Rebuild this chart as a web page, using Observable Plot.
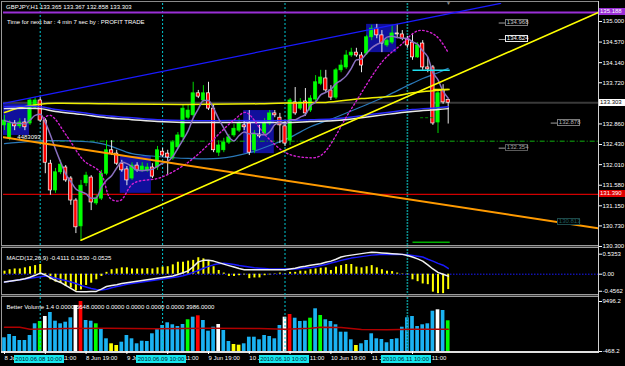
<!DOCTYPE html>
<html><head><meta charset="utf-8">
<script src="https://cdn.jsdelivr.net/npm/d3@7"></script>
<script src="https://cdn.jsdelivr.net/npm/@observablehq/plot@0.6"></script>
<style>
html,body{margin:0;padding:0;background:#000;}
#root{position:relative;width:625px;height:366px;background:#000;overflow:hidden;font-family:"Liberation Sans",Arial,sans-serif;font-size:6px;color:#fff;}
#root svg{position:absolute;left:0;background:transparent;}
.lbl{position:absolute;white-space:nowrap;font-size:6px;height:7px;line-height:7px;box-sizing:border-box;}
.ln{position:absolute;}
</style></head><body><div id="root"></div><script>
// ---------- DATA ----------
const opens = [132.83,132.56,132.87,132.81,132.89,132.87,133.20,133.35,132.93,132.03,131.47,131.85,131.95,131.72,131.26,130.72,131.62,131.74,131.20,131.30,131.82,132.31,132.24,132.03,131.91,131.72,131.99,131.89,131.89,131.95,131.95,132.28,132.24,132.14,132.37,132.58,132.99,133.04,133.50,133.35,133.50,133.18,132.26,132.31,132.47,132.62,132.72,132.83,132.87,132.31,132.64,132.66,132.87,133.08,132.99,132.81,132.51,133.31,133.18,133.33,133.14,133.37,133.70,133.81,133.56,133.41,133.98,134.04,134.29,134.35,134.29,134.33,134.67,134.85,134.71,134.50,134.56,134.75,134.73,134.62,134.56,134.25,134.54,134.04,134.04,132.89,133.56,133.365];
const highs = [133.04,132.93,132.93,132.97,132.97,133.39,133.41,133.41,132.97,132.10,131.93,132.10,131.99,131.76,131.30,131.68,131.85,131.78,131.37,131.89,132.51,132.51,132.31,132.10,131.97,132.05,132.05,132.05,132.03,132.03,132.39,132.35,132.31,132.51,132.68,133.25,133.25,133.73,133.56,133.66,133.73,133.25,132.51,132.56,132.64,132.85,132.97,132.93,133.14,132.72,132.83,132.97,133.14,133.14,133.08,132.93,133.39,133.62,133.39,133.60,133.45,133.87,133.98,133.98,133.66,134.02,134.19,134.39,134.44,134.44,134.35,134.71,134.92,134.94,134.81,134.64,134.92,134.94,134.81,134.69,134.75,134.56,134.60,134.25,134.08,133.56,133.68,133.367];
const lows = [132.72,132.51,132.72,132.76,132.72,132.83,133.18,132.89,131.82,131.37,131.41,131.80,131.64,131.16,130.57,130.43,131.55,131.05,131.16,131.26,131.78,132.20,131.99,131.85,131.57,131.68,131.85,131.85,131.85,131.72,131.89,132.16,131.78,132.10,132.33,132.53,132.95,132.99,133.39,133.31,133.14,132.26,132.18,132.26,132.43,132.58,132.68,132.72,132.20,132.24,132.56,132.62,132.83,132.99,132.45,132.39,132.41,133.04,133.14,133.02,133.10,133.31,133.66,133.52,133.35,133.37,133.93,134.00,134.25,134.25,133.93,134.29,134.60,134.64,134.35,134.46,134.52,134.64,134.60,134.44,134.19,134.23,133.98,133.93,132.83,132.66,133.27,132.858];
const closes = [132.93,132.87,132.81,132.89,132.79,133.35,133.35,132.93,132.05,131.47,131.85,132.01,131.68,131.26,130.70,131.57,131.78,131.22,131.30,131.82,132.31,132.24,132.03,131.89,131.68,131.99,131.89,131.97,131.95,131.76,132.31,132.20,132.16,132.47,132.62,133.18,133.14,133.50,133.43,133.50,133.18,132.31,132.41,132.47,132.58,132.76,132.87,132.79,132.26,132.64,132.60,132.87,133.08,133.04,132.83,132.45,133.35,133.08,133.31,133.08,133.39,133.73,133.83,133.56,133.41,133.98,134.08,134.29,134.35,134.29,134.08,134.67,134.85,134.71,134.54,134.60,134.75,134.73,134.64,134.50,134.25,134.50,134.04,134.00,132.87,133.50,133.31,133.303];

const volumes = [2262,2920,2522,1724,1724,2721,5052,5511,6508,7305,5571,5052,5372,6249,8700,9496,5710,5571,5052,4056,2063,1066,728,1386,2721,2063,1066,1585,1525,3060,3917,4714,5252,4853,4515,4913,5850,6368,6647,5710,3578,4375,4913,3717,1525,927,788,1066,2382,2382,1864,2721,2522,2063,4714,6368,6906,6169,5511,5571,6169,8042,6707,5850,5511,4853,3379,3379,1864,728,1066,1724,3060,2063,1924,1266,1924,2063,4375,6249,6508,4515,4853,5052,7563,7842,7703,5648];
const volumeKind = "bbbbbbbgwbbbbbwrbbgbbyybbbbbbbbbbbbbgbrbbbwbbyybbbbbbbbwrbbbgbgbbbbbbybbbbbbbbbbbbbbbwbgb".split("");
const volAvgIdx = [0,3,5,12,20,30,40,50,55,60,62,66,70,75,80,87];
const volAvgVal = [4375,4375,3980,4120,4176,4050,4176,4100,3950,4176,4375,4300,3920,3880,3986,3986];

const macdHist = [0.08,0.12,0.14,0.14,0.17,0.20,0.23,0.26,0.02,-0.15,-0.21,-0.24,-0.33,-0.37,-0.45,-0.42,-0.30,-0.24,-0.15,-0.06,0.05,0.12,0.14,0.17,0.17,0.14,0.14,0.14,0.15,0.14,0.17,0.19,0.20,0.25,0.32,0.32,0.35,0.37,0.44,0.41,0.35,0.20,0.10,0.03,-0.06,-0.06,-0.04,-0.02,-0.12,-0.10,-0.10,-0.04,-0.02,0.01,0.03,0.01,0.05,0.05,0.08,0.08,0.12,0.14,0.16,0.17,0.10,0.19,0.23,0.26,0.26,0.19,0.17,0.20,0.23,0.17,0.12,0.08,0.07,0.03,0.01,-0.01,-0.15,-0.20,-0.26,-0.28,-0.48,-0.52,-0.52,-0.4111];
const macdLine = [-0.21,-0.19,-0.17,-0.15,-0.12,-0.08,-0.03,0.03,-0.02,-0.10,-0.17,-0.22,-0.30,-0.38,-0.46,-0.47,-0.47,-0.46,-0.46,-0.40,-0.33,-0.30,-0.28,-0.25,-0.23,-0.21,-0.19,-0.17,-0.15,-0.13,-0.11,-0.09,-0.07,-0.05,-0.01,0.04,0.09,0.20,0.33,0.37,0.37,0.35,0.31,0.27,0.23,0.19,0.15,0.12,0.12,0.12,0.12,0.12,0.12,0.12,0.12,0.12,0.14,0.16,0.19,0.21,0.24,0.26,0.28,0.32,0.35,0.40,0.46,0.49,0.51,0.53,0.55,0.57,0.59,0.58,0.57,0.56,0.55,0.54,0.53,0.50,0.46,0.41,0.35,0.25,0.14,0.05,0.00,-0.0525];
const macdSignal = [-0.21,-0.19,-0.17,-0.15,-0.13,-0.11,-0.09,-0.07,-0.05,-0.07,-0.11,-0.14,-0.17,-0.21,-0.25,-0.30,-0.34,-0.38,-0.41,-0.42,-0.40,-0.36,-0.33,-0.30,-0.27,-0.25,-0.23,-0.21,-0.19,-0.17,-0.15,-0.13,-0.11,-0.09,-0.07,-0.04,0.00,0.05,0.10,0.16,0.21,0.25,0.28,0.29,0.28,0.26,0.23,0.21,0.19,0.17,0.16,0.15,0.14,0.14,0.14,0.14,0.14,0.14,0.15,0.17,0.18,0.20,0.23,0.26,0.30,0.33,0.37,0.40,0.43,0.45,0.47,0.49,0.51,0.52,0.53,0.53,0.53,0.53,0.53,0.52,0.50,0.48,0.46,0.40,0.35,0.29,0.24,0.153];

const yellowMaIdx = [0,3,7,10,20,30,40,50,60,63,70,77,80,87];
const yellowMaVal = [133.10,133.20,133.27,133.29,133.28,133.27,133.27,133.28,133.31,133.31,133.39,133.45,133.51,133.58];
const whiteMaIdx = [0,7,10,15,20,25,30,35,45,55,60,65,70,75,80,85,87];
const whiteMaVal = [133.18,133.18,133.12,133.06,132.99,132.95,132.91,132.89,132.89,132.89,132.91,132.93,132.99,133.06,133.12,133.16,133.18];
const blueMaVal = [133.22,133.22,133.16,133.10,133.03,132.99,132.95,132.93,132.93,132.93,132.95,132.97,133.03,133.10,133.16,133.20,133.22];
const tealMaIdx = [0,9,19,25,30,36,42,48,52,56,60,65,70,75,79,82,85,87];
const tealMaVal = [132.45,132.51,132.45,132.24,132.18,132.14,132.14,132.26,132.41,132.58,132.80,133.00,133.22,133.45,133.66,133.81,133.93,134.02];
const magIdx = [7.6,9.0,12.4,15.5,18.8,20.8,22.7,25.3,30.6,35.9,39.8,42.7,45.3,47.3,51.2,55.1,59.0,62.0,67.8,74.3,77.6,81.2,84.5,87.0];
const magVal = [132.97,133.04,132.58,132.10,131.85,131.30,131.26,131.62,131.74,132.05,132.41,132.72,132.97,133.10,132.62,132.26,132.16,132.20,133.14,134.19,134.50,134.81,134.71,134.35];

const blueTrendIdx = [-0.2, 97.3], blueTrendVal = [133.29, 135.38];
const yellowTrendIdx = [15, 116.47], yellowTrendVal = [130.43, 135.19];
const orangeTrendIdx = [-0.2, 116.47], orangeTrendVal = [132.58, 130.68];

const boxStart = [-0.2, 22.7, 46.9, 71.0];
const boxEnd = [4.9, 28.8, 52.9, 76.9];
const boxHigh = [133.29, 132.18, 133.14, 134.94];
const boxLow = [132.62, 131.41, 132.24, 134.35];

const levelPurple = 135.188, bidPrice = 133.303, levelRed = 131.390, levelGreen = 132.50;
const segFrom = [80, 84, 80], segTo = [87.3, 87.3, 87.3], segPrice = [133.98, 133.58, 130.39], segColor = ["#20e0f0", "#f0f000", "#00b000"];
const dashSeg = {from: 81.5, to: 84.5, price: 132.99};
const tagPrices = [134.968, 134.624, 132.878, 132.354, 130.813];
const tagIdx = [98.2, 98.2, 108.4, 98.2, 108.4];

const priceTicks = [135.000, 134.570, 134.140, 133.720, 132.860, 132.430, 132.010, 131.580, 131.150, 130.730, 130.300];
const macdTicks = [0.5353, 0, -0.4562];
const volTicks = [9496.2, -468.2];
const daySepIdx = [7, 31, 55, 79];
const daySepLabels = ["2010.06.08 10:00", "2010.06.09 10:00", "2010.06.10 10:00", "2010.06.11 10:00"];
const timeTickIdx = [0, 8, 16, 24, 32, 40, 48, 56, 64, 72, 80];
const timeTickLabels = ["8 Jun 2010", "8 Jun 11:00", "8 Jun 19:00", "9 Jun 03:00", "9 Jun 11:00", "9 Jun 19:00", "10 Jun 03:00", "10 Jun 11:00", "10 Jun 19:00", "11 Jun 03:00", "11 Jun 11:00"];

// ---------- BUILD ----------
const root = document.getElementById("root");
const FONT = '"Liberation Sans", Arial, sans-serif';
const X_DOMAIN = [-0.196, 116.47];
const baseStyle = {background: "transparent", color: "#ffffff", fontSize: "6px", fontFamily: FONT, overflow: "visible"};
const volColors = {b: "#1ab2f2", g: "#00ff00", w: "#ffffff", r: "#ff0000", y: "#ffff00"};

const bars = opens.map((o, i) => ({i, o, h: highs[i], l: lows[i], c: closes[i], up: closes[i] >= o}));
const pairs = (I, V) => I.map((i, k) => ({i, v: V[k]}));
const boxes = boxStart.map((s, k) => ({s, e: boxEnd[k], hi: boxHigh[k], lo: boxLow[k]}));
const segs = segFrom.map((a, k) => ({a, b: segTo[k], p: segPrice[k], c: segColor[k]}));
const connectors = tagPrices.slice(0, 4).map((p, k) => ({a: tagIdx[k] - 1.3, b: tagIdx[k], p}));

function div(cls, css, text) {
  const d = document.createElement("div");
  d.className = cls;
  Object.assign(d.style, css);
  if (text != null) d.textContent = text;
  root.appendChild(d);
  return d;
}

// frame lines (behind)
div("ln", {left: "1px", top: "1px", width: "597px", height: "1px", background: "#8a8a8a"});
div("ln", {left: "1px", top: "1px", width: "1px", height: "352px", background: "#9a9a9a"});
div("ln", {left: "598px", top: "1px", width: "1px", height: "352px", background: "#d0d0d0"});
div("ln", {left: "1px", top: "245px", width: "597px", height: "3px", background: "#9a9a9a"});
div("ln", {left: "1px", top: "246px", width: "597px", height: "1px", background: "#3a3a3a"});
div("ln", {left: "1px", top: "294px", width: "597px", height: "3px", background: "#9a9a9a"});
div("ln", {left: "1px", top: "295px", width: "597px", height: "1px", background: "#3a3a3a"});
div("ln", {left: "1px", top: "351px", width: "598px", height: "2px", background: "#e0e0e0"});

const main = Plot.plot({
  width: 625, height: 250, marginLeft: 3, marginRight: 27, marginTop: 3, marginBottom: 3,
  style: baseStyle,
  x: {domain: X_DOMAIN, axis: null},
  y: {domain: [130.279, 135.376], axis: "right", ticks: priceTicks, tickFormat: d3.format(".3f"), tickSize: 3, tickPadding: 1, label: null},
  marks: [
    Plot.rect(boxes, {x1: "s", x2: "e", y1: "lo", y2: "hi", fill: "#10109c"}),
    Plot.ruleX(daySepIdx.slice(0, 3), {stroke: "#00c8d2", strokeDasharray: "2,2", strokeWidth: 1}),
    Plot.ruleX(daySepIdx.slice(3), {stroke: "#0a8c8c", strokeDasharray: "2,1", strokeWidth: 1.6}),
    Plot.ruleY([levelPurple], {stroke: "#9a2fd6", strokeWidth: 2}),
    Plot.ruleY([bidPrice], {stroke: "#3a3a3a", strokeWidth: 2}),
    Plot.ruleY([levelRed], {stroke: "#d00000", strokeWidth: 1.2}),
    Plot.ruleY([levelGreen], {x1: 7, x2: X_DOMAIN[1], stroke: "#10b010", strokeDasharray: "5,2,1,2", strokeWidth: 1}),
    Plot.line(pairs(tealMaIdx, tealMaVal), {x: "i", y: "v", stroke: "#2a78b8", strokeWidth: 1.2, curve: "catmull-rom"}),
    Plot.ruleX(bars, {x: "i", y1: "l", y2: "h", stroke: d => d.up ? "#00d800" : "#e8e8e8", strokeWidth: 1}),
    Plot.rect(bars, {x1: d => d.i - 0.32, x2: d => d.i + 0.32, y1: "o", y2: "c", fill: d => d.up ? "#00ff00" : "#ff0000", stroke: d => d.up ? "#00ff00" : "#ffffff", strokeWidth: 0.7}),
    Plot.line(pairs(yellowMaIdx, yellowMaVal), {x: "i", y: "v", stroke: "#f0f000", strokeWidth: 1.5, curve: "catmull-rom"}),
    Plot.line(pairs(whiteMaIdx, blueMaVal), {x: "i", y: "v", stroke: "#2a2aff", strokeWidth: 1.5, curve: "catmull-rom"}),
    Plot.line(pairs(whiteMaIdx, whiteMaVal), {x: "i", y: "v", stroke: "#e8e8e8", strokeWidth: 1.5, curve: "catmull-rom"}),
    Plot.lineY(bars, Plot.windowY({k: 5, anchor: "end"}, {x: "i", y: "c", stroke: "#8a70c0", strokeWidth: 1.5, curve: "monotone-x"})),
    Plot.line(pairs(magIdx, magVal), {x: "i", y: "v", stroke: "#d020d0", strokeWidth: 1.4, strokeDasharray: "1.5,2.5", curve: "catmull-rom"}),
    Plot.line(pairs(blueTrendIdx, blueTrendVal), {x: "i", y: "v", stroke: "#1a1aff", strokeWidth: 1.2, clip: true}),
    Plot.line(pairs(orangeTrendIdx, orangeTrendVal), {x: "i", y: "v", stroke: "#ff9a00", strokeWidth: 2, clip: true}),
    Plot.line(pairs(yellowTrendIdx, yellowTrendVal), {x: "i", y: "v", stroke: "#ffff00", strokeWidth: 1.6, clip: true}),
    Plot.link(segs, {x1: "a", x2: "b", y1: "p", y2: "p", stroke: "c", strokeWidth: 1.5}),
    Plot.link([dashSeg], {x1: "from", x2: "to", y1: "price", y2: "price", stroke: "#008800", strokeDasharray: "3,2", strokeWidth: 1}),
    Plot.link(connectors, {x1: "a", x2: "b", y1: "p", y2: "p", stroke: "#a0a0a0", strokeWidth: 1}),
    Plot.text(["4483093"], {x: 4.8, y: 132.58, text: d => d, fill: "#ffffff", fontSize: 6})
  ]
});
main.style.top = "0px";
root.appendChild(main);

const macdData = macdHist.map((h, i) => ({i, h, m: macdLine[i], s: macdSignal[i]}));
const macdPlot = Plot.plot({
  width: 625, height: 48, marginLeft: 3, marginRight: 27, marginTop: 1, marginBottom: 1,
  style: baseStyle,
  x: {domain: X_DOMAIN, axis: null},
  y: {domain: [-0.5695, 0.6604], axis: "right", ticks: macdTicks, tickFormat: v => v === 0 ? "0.00" : v.toFixed(4), tickSize: 3, tickPadding: 1, label: null},
  marks: [
    Plot.ruleX(daySepIdx.slice(0, 3), {stroke: "#00c8d2", strokeDasharray: "2,2", strokeWidth: 1}),
    Plot.ruleX(daySepIdx.slice(3), {stroke: "#0a8c8c", strokeDasharray: "2,1", strokeWidth: 1.6}),
    Plot.ruleY([0], {stroke: "#1a1aff", strokeDasharray: "1.5,1.5", strokeWidth: 1}),
    Plot.ruleX(macdData, {x: "i", y1: 0, y2: "h", stroke: "#ffff00", strokeWidth: 2}),
    Plot.line(macdData, {x: "i", y: "s", stroke: "#1a1aff", strokeWidth: 1.5}),
    Plot.line(macdData, {x: "i", y: "m", stroke: "#f0f0f0", strokeWidth: 1.5}),
    Plot.text(["MACD(12,26,9) -0.4111 0.1530 -0.0525"], {frameAnchor: "top-left", dx: 3, dy: 6, text: d => d, textAnchor: "start", fill: "#ffffff"})
  ]
});
macdPlot.style.top = "248px";
root.appendChild(macdPlot);

const volData = volumes.map((v, i) => ({i, v, c: volColors[volumeKind[i]]}));
const volPlot = Plot.plot({
  width: 625, height: 70, marginLeft: 3, marginRight: 27, marginTop: 1, marginBottom: 15,
  style: baseStyle,
  x: {domain: X_DOMAIN, axis: "bottom", ticks: timeTickIdx, tickFormat: () => "", tickSize: 3, label: null},
  y: {domain: [-468.2, 10293.4], axis: "right", ticks: volTicks, tickFormat: v => v.toFixed(1), tickSize: 3, tickPadding: 1, label: null},
  marks: [
    Plot.rect(volData, {x1: d => d.i - 0.36, x2: d => d.i + 0.36, y1: -468.2, y2: "v", fill: "c"}),
    Plot.ruleX(daySepIdx.slice(0, 3), {stroke: "#00c8d2", strokeDasharray: "2,2", strokeWidth: 1}),
    Plot.ruleX(daySepIdx.slice(3), {stroke: "#0a8c8c", strokeDasharray: "2,1", strokeWidth: 1.6}),
    Plot.line(pairs(volAvgIdx, volAvgVal), {x: "i", y: "v", stroke: "#b00000", strokeWidth: 1.5}),
    Plot.text(["Better Volume 1.4 0.0000 5648.0000 0.0000 0.0000 0.0000 0.0000 3986.0000"], {frameAnchor: "top-left", dx: 3, dy: 7, text: d => d, textAnchor: "start", fill: "#ffffff"}),
    Plot.text(timeTickIdx, {x: d => d, text: (d, k) => timeTickLabels[k], frameAnchor: "bottom", textAnchor: "start", dy: 8, fill: "#ffffff"})
  ]
});
volPlot.style.top = "296px";
root.appendChild(volPlot);

// ---------- HTML annotations positioned with the plot scales ----------
const xs = main.scale("x"), ys = main.scale("y");

div("lbl", {left: "6px", top: "4px", color: "#fff"}, "GBPJPY,H1  133.365 133.367 132.858 133.303");
div("lbl", {left: "7px", top: "19px", color: "#fff"}, "Time for next bar : 4 min 7 sec by : PROFIT TRADE");
div("lbl", {left: "446px", top: "0px", color: "#8a8a8a", fontSize: "5px"}, "\u25BC");

// right-hand price boxes
[[levelPurple, "#9a2fd6", "#ffffff"], [bidPrice, "#ffffff", "#000000"], [levelRed, "#e00000", "#ffffff"]].forEach(([p, bg, fg]) => {
  div("lbl", {left: "599px", width: "26px", top: (ys.apply(p) - 3.5) + "px", background: bg, color: fg, paddingLeft: "1px"}, p.toFixed(3));
});

// in-chart price tags
const tagStyles = [["#7a7a7a", "#c8c8c8"], ["#e8e8e8", "#ffffff"], ["#7a7a7a", "#b0b0b0"], ["#5a5a5a", "#a0a0a0"], ["#1e4a4a", "#1e5a5a"]];
tagPrices.forEach((p, k) => {
  div("lbl", {left: xs.apply(tagIdx[k]) + "px", width: "23px", top: (ys.apply(p) - 3.5) + "px", border: "1px solid " + tagStyles[k][0], color: tagStyles[k][1], background: "#000", lineHeight: "5px", paddingLeft: "1px"}, p.toFixed(3));
});

// date boxes at the bottom
daySepIdx.forEach((i, k) => {
  div("lbl", {left: (xs.apply(i) - 26) + "px", width: "50px", top: "355px", height: "8px", lineHeight: "8px", background: "#14e6ee", color: "#002030", textAlign: "center"}, daySepLabels[k]);
});
</script></body></html>
